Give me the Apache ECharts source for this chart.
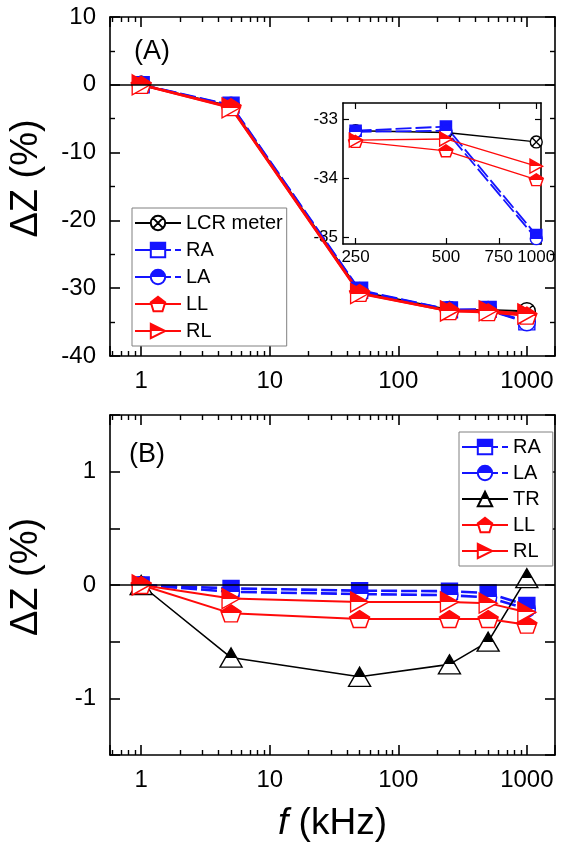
<!DOCTYPE html>
<html><head><meta charset="utf-8">
<script src="https://cdn.jsdelivr.net/npm/echarts@6/dist/echarts.min.js"></script>
<style>html,body{margin:0;padding:0;background:#fff}#c{width:566px;height:852px}</style>
</head><body><div id="c"></div>
<script>
// ---------- data ----------
const freq = [1, 5, 50, 250, 500, 1000];            // kHz
// Panel (A)
const lcrA = [0, -3.2, -30.5, -33.2, -33.23, -33.39];
const raA  = [0, -3.0, -30.3, -33.2, -33.13, -34.97];
const laA  = [0, -3.1, -30.4, -33.22, -33.2, -35.03];
const llA  = [0, -3.3, -30.7, -33.38, -33.54, -34.03];
const rlA  = [0, -3.4, -30.8, -33.36, -33.34, -33.8];
// Panel (B)
const raB = [0, -0.03, -0.05, -0.055, -0.07, -0.18];
const laB = [0, -0.06, -0.08, -0.09, -0.11, -0.21];
const trB = [0, -0.64, -0.81, -0.70, -0.50, 0.06];
const llB = [0, -0.25, -0.30, -0.30, -0.30, -0.35];
const rlB = [0, -0.12, -0.15, -0.15, -0.16, -0.24];
// inset uses the last three frequencies
const insetStart = 3;
const insetXTicks = [250, 500, 750, 1000];
const insetYTicks = [-35, -34, -33];
const legendA = ['LCR meter', 'RA', 'LA', 'LL', 'RL'];
const legendB = ['RA', 'LA', 'TR', 'LL', 'RL'];

// ---------- styles ----------
const FONT = 'Liberation Sans, Arial, sans-serif';
const BLUE = '#1414ff', RED = '#ff0a0a', BLACK = '#000000';
function half(c) {
  return {type: 'linear', x: 0, y: 0, x2: 0, y2: 1, global: false,
    colorStops: [{offset: 0, color: c}, {offset: 0.5, color: c}, {offset: 0.5, color: '#ffffff'}, {offset: 1, color: '#ffffff'}]};
}
const SYM = {
  lcr: 'path://M0,10A10,10,0,1,1,20,10A10,10,0,1,1,0,10ZM2.93,2.93L17.07,17.07M17.07,2.93L2.93,17.07',
  square: 'path://M0,0L20,0L20,20L0,20Z',
  circle: 'path://M0,10A10,10,0,1,1,20,10A10,10,0,1,1,0,10Z',
  triUp: 'path://M10,0L20,18L0,18Z',
  pent: 'path://M10,0L20,7.3L16.2,19L3.8,19L0,7.3Z',
  triRight: 'path://M0,0L18,10L0,20Z'
};
const STY = {
  'LCR meter': {color: BLACK, sym: SYM.lcr, fill: '#ffffff', dash: 'solid'},
  'RA': {color: BLUE, sym: SYM.square, fill: half(BLUE), dash: [16, 4]},
  'LA': {color: BLUE, sym: SYM.circle, fill: half(BLUE), dash: [16, 4]},
  'TR': {color: BLACK, sym: SYM.triUp, fill: half(BLACK), dash: 'solid'},
  'LL': {color: RED, sym: SYM.pent, fill: half(RED), dash: 'solid'},
  'RL': {color: RED, sym: SYM.triRight, fill: half(RED), dash: 'solid'}
};
const SIZE = {'LCR meter': [17, 17], 'RA': [16, 16], 'LA': [17, 17], 'TR': [22, 19], 'LL': [20, 17], 'RL': [18, 20]};

function mk(name, vals, xi, yi, scale, start, lw) {
  const s = STY[name];
  const sz = SIZE[name].map(v => v * scale);
  const xs = freq.slice(start || 0), ys = vals.slice(start || 0);
  return {
    name: name, type: 'line', xAxisIndex: xi, yAxisIndex: yi,
    data: xs.map((f, i) => [f, ys[i]]),
    symbol: s.sym, symbolSize: sz, showAllSymbol: true,
    itemStyle: {color: s.fill, borderColor: s.color, borderWidth: 1.4},
    lineStyle: {color: s.color, width: lw || 2, type: s.dash},
    emphasis: {disabled: true}, animation: false, clip: true
  };
}
function zeroLine() {
  return {silent: true, symbol: 'none', label: {show: false}, animation: false,
    lineStyle: {color: BLACK, width: 1.5, type: 'solid'}, data: [{yAxis: 0}]};
}

const axisLineS = {onZero: false, lineStyle: {color: BLACK, width: 1.6}};
function logX(grid, pos, labels) {
  return {
    type: 'log', gridIndex: grid, position: pos, min: 0.572, max: 1656, logBase: 10,
    axisLine: axisLineS,
    axisTick: {show: true, inside: true, length: 10, lineStyle: {color: BLACK, width: 1.6}},
    minorTick: {show: true, splitNumber: 9, length: 5, lineStyle: {color: BLACK, width: 1.4}},
    axisLabel: {show: labels, fontSize: 24, color: BLACK, fontFamily: FONT, margin: 13,
      showMinLabel: false, showMaxLabel: false, formatter: v => String(v)},
    splitLine: {show: false}, minorSplitLine: {show: false}
  };
}
function valY(grid, pos, min, max, interval, labels, minorSplit, fmt) {
  return {
    type: 'value', gridIndex: grid, position: pos, min: min, max: max, interval: interval,
    axisLine: axisLineS,
    axisTick: {show: true, inside: true, length: 10, lineStyle: {color: BLACK, width: 1.6}},
    minorTick: {show: minorSplit > 1, splitNumber: minorSplit || 2, length: 5, lineStyle: {color: BLACK, width: 1.4}},
    axisLabel: {show: labels, fontSize: 24, color: BLACK, fontFamily: FONT, margin: 14, formatter: fmt},
    splitLine: {show: false}
  };
}
function insetX(pos, labels) {
  return {
    type: 'log', gridIndex: 2, position: pos, min: 227, max: 1037, logBase: 10,
    axisLine: axisLineS,
    axisTick: {show: true, inside: true, length: 6, customValues: insetXTicks, lineStyle: {color: BLACK, width: 1.2}},
    axisLabel: {show: labels, fontSize: 17, color: BLACK, fontFamily: FONT, margin: 5, customValues: insetXTicks, formatter: v => String(v)},
    splitLine: {show: false}
  };
}
function insetY(pos, labels) {
  return {
    type: 'value', gridIndex: 2, position: pos, min: -35.12, max: -32.73,
    axisLine: axisLineS,
    axisTick: {show: true, inside: true, length: 6, customValues: insetYTicks, lineStyle: {color: BLACK, width: 1.2}},
    axisLabel: {show: labels, fontSize: 17, color: BLACK, fontFamily: FONT, margin: 5, customValues: insetYTicks},
    splitLine: {show: false}
  };
}

const yTitle = {
  name: 'ΔZ (%)', nameLocation: 'middle', nameGap: 64,
  nameTextStyle: {fontSize: 38, color: BLACK, fontFamily: FONT, padding: [0, 0, 0, 16]}
};

const chart = echarts.init(document.getElementById('c'), null, {renderer: 'canvas'});
chart.setOption({
  backgroundColor: '#ffffff',
  animation: false,
  title: [
    {text: '(A)', left: 129, top: 33, textStyle: {fontSize: 27, fontWeight: 'normal', color: BLACK, fontFamily: FONT}},
    {text: '(B)', left: 124, top: 436, textStyle: {fontSize: 27, fontWeight: 'normal', color: BLACK, fontFamily: FONT}}
  ],
  grid: [
    {left: 108, right: 11, top: 17, height: 339},
    {left: 108, right: 11, top: 415, height: 340},
    {left: 343, right: 25, top: 103, height: 141}
  ],
  xAxis: [
    logX(0, 'bottom', true),
    logX(0, 'top', false),
    Object.assign(logX(1, 'bottom', true), {
      name: '{i|f} (kHz)', nameLocation: 'middle', nameGap: 50,
      nameTextStyle: {fontSize: 37, color: BLACK, fontFamily: FONT, rich: {i: {fontSize: 37, fontStyle: 'italic', fontFamily: FONT, color: BLACK}}}
    }),
    logX(1, 'top', false),
    insetX('bottom', true),
    insetX('top', false)
  ],
  yAxis: [
    Object.assign(valY(0, 'left', -40, 10, 10, true, 2), yTitle),
    valY(0, 'right', -40, 10, 10, false, 2),
    Object.assign(valY(1, 'left', -1.5, 1.5, 0.5, true, 0, v => (Math.abs(v - Math.round(v)) < 1e-9 ? String(Math.round(v)) : '')), yTitle),
    valY(1, 'right', -1.5, 1.5, 0.5, false, 0),
    insetY('left', true),
    insetY('right', false)
  ],
  legend: [
    {
      data: legendA, orient: 'vertical', left: 132, top: 208,
      itemWidth: 46, itemHeight: 18, itemGap: 7, padding: [5, 4, 5, 2],
      borderColor: '#808080', borderWidth: 1, backgroundColor: '#ffffff',
      textStyle: {fontSize: 20, color: BLACK, fontFamily: FONT}, selectedMode: false
    },
    {
      data: legendB, orient: 'vertical', left: 459, top: 432,
      itemWidth: 46, itemHeight: 18, itemGap: 6, padding: [5, 12, 5, 2],
      borderColor: '#808080', borderWidth: 1, backgroundColor: '#ffffff',
      textStyle: {fontSize: 20, color: BLACK, fontFamily: FONT}, selectedMode: false
    }
  ],
  series: [
    Object.assign(mk('LCR meter', lcrA, 0, 0, 1, 0, 2), {markLine: zeroLine()}),
    mk('RA', raA, 0, 0, 1, 0, 2.4),
    mk('LA', laA, 0, 0, 1, 0, 2.4),
    mk('LL', llA, 0, 0, 1, 0, 2.5),
    mk('RL', rlA, 0, 0, 1, 0, 2.5),
    Object.assign(mk('RA', raB, 2, 2, 1, 0, 2.6), {markLine: zeroLine()}),
    mk('LA', laB, 2, 2, 1, 0, 2.6),
    mk('TR', trB, 2, 2, 1, 0, 1.6),
    mk('LL', llB, 2, 2, 1, 0, 2),
    mk('RL', rlB, 2, 2, 1, 0, 2),
    mk('LCR meter', lcrA, 4, 4, 0.7, insetStart, 1.3),
    mk('RA', raA, 4, 4, 0.7, insetStart, 1.8),
    mk('LA', laA, 4, 4, 0.7, insetStart, 1.8),
    mk('LL', llA, 4, 4, 0.7, insetStart, 1.3),
    mk('RL', rlA, 4, 4, 0.7, insetStart, 1.3)
  ]
});
</script>
</body></html>
